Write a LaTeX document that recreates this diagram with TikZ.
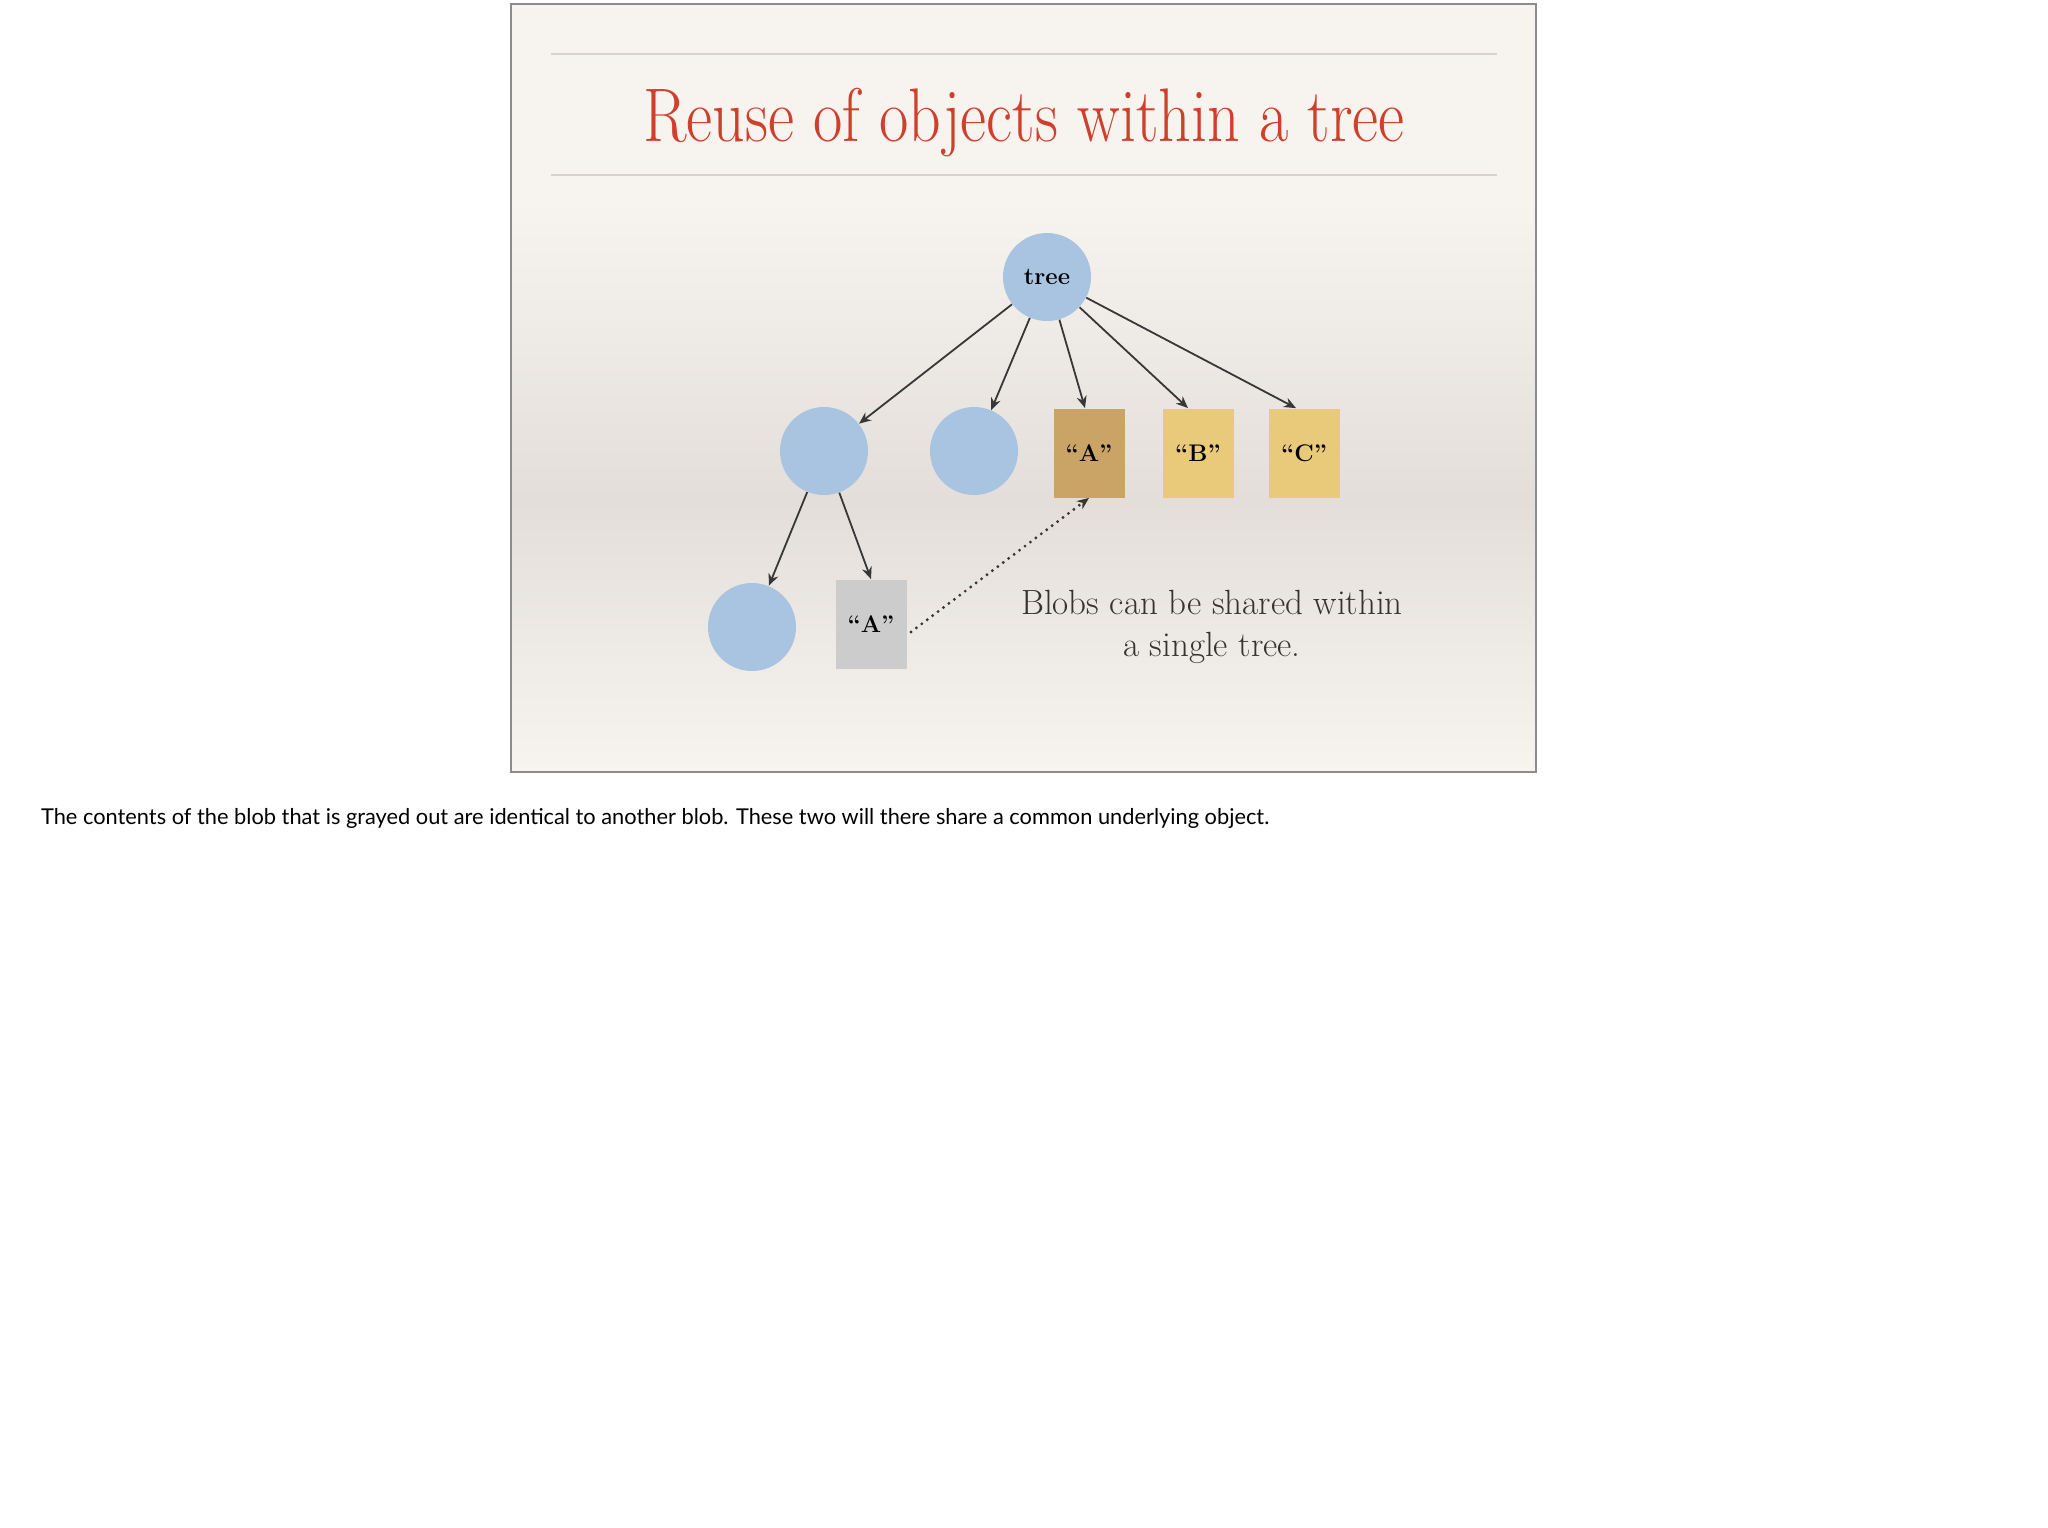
\documentclass[tikz,border=0pt]{standalone}
\usepackage{fontspec}
\usepackage{graphicx}
\newfontfamily\notefont{Lato}
\usetikzlibrary{arrows.meta}
\definecolor{slidebg}{RGB}{247,244,239}
\definecolor{slideband}{RGB}{227,222,218}
\definecolor{titlered}{RGB}{208,62,44}
\definecolor{blobblue}{RGB}{168,196,224}
\definecolor{sharedtan}{RGB}{201,164,102}
\definecolor{blobyellow}{RGB}{232,202,122}
\definecolor{grayblob}{RGB}{205,204,204}
\definecolor{arrowgray}{RGB}{55,55,55}
\definecolor{rulegray}{RGB}{216,210,204}
\definecolor{textgray}{RGB}{55,51,49}
\tikzset{
	treenode/.style={circle,fill=blobblue,minimum size=44pt,inner sep=0pt,font=\bfseries\fontsize{12}{14}\selectfont},
	blobbox/.style={rectangle,minimum width=35.5pt,minimum height=44.5pt,inner sep=0pt,font=\bfseries\fontsize{12}{14}\selectfont},
	link/.style={draw=arrowgray,line width=0.9pt,-{Stealth[length=6pt,width=5pt]}}
}
\begin{document}
\begin{tikzpicture}[x=0.5pt,y=-0.5pt]
				\useasboundingbox (0,0) rectangle (2048,1527);
				\fill[white] (0,0) rectangle (2048,1527);
				\fill[slidebg] (511,4) rectangle (1536,200);
				\shade[top color=slidebg,bottom color=slideband] (511,200) rectangle (1536,500);
				\shade[top color=slideband,bottom color=slidebg] (511,500) rectangle (1536,772);
				\draw[gray!90,line width=0.8pt] (511,4) rectangle (1536,772);
				\draw[rulegray,line width=0.8pt] (551,54) -- (1497,54);
				\draw[rulegray,line width=0.8pt] (551,175) -- (1497,175);
				\node[anchor=base,text=titlered,font=\fontsize{38}{40}\selectfont] (title) at (1024,141) {\scalebox{0.84}[1]{Reuse of objects within a tree}};
				\node[treenode] (tree) at (1047,277) {tree};
				\node[treenode] (subtree) at (824,451) {};
				\node[treenode] (emptytree) at (974,451) {};
				\node[blobbox,fill=sharedtan] (blobA) at (1089,453) {``A''};
				\node[blobbox,fill=blobyellow] (blobB) at (1198,453) {``B''};
				\node[blobbox,fill=blobyellow] (blobC) at (1304,453) {``C''};
				\node[treenode] (leaftree) at (752,627) {};
				\node[blobbox,fill=grayblob] (copyA) at (871,624) {``A''};
				\draw[link] (tree) -- ([xshift=-2pt]blobA.north);
				\draw[link] (tree) -- (subtree);
				\draw[link] (tree) -- (emptytree);
				\draw[link] (tree) -- ([xshift=-5pt]blobB.north);
				\draw[link] (tree) -- ([xshift=-4pt]blobC.north);
				\draw[link] (subtree) -- (leaftree);
				\draw[link] (subtree) -- (copyA.north);
				\draw[link,line width=1.6pt,line cap=round,dash pattern=on 0pt off 3.4pt] ([xshift=2pt,yshift=-4pt]copyA.east) -- (blobA.south);
				\node[align=center,text=textgray,font=\fontsize{17.5}{21}\selectfont] (note) at (1212,627) {Blobs can be shared within\\a single tree.};
				\node[anchor=base west,font=\notefont\fontsize{10.9}{12}\selectfont] (caption) at (34,824) {The contents of the blob that is grayed out are identical to another blob. These two will there share a common underlying object.};
			\end{tikzpicture}
\end{document}
